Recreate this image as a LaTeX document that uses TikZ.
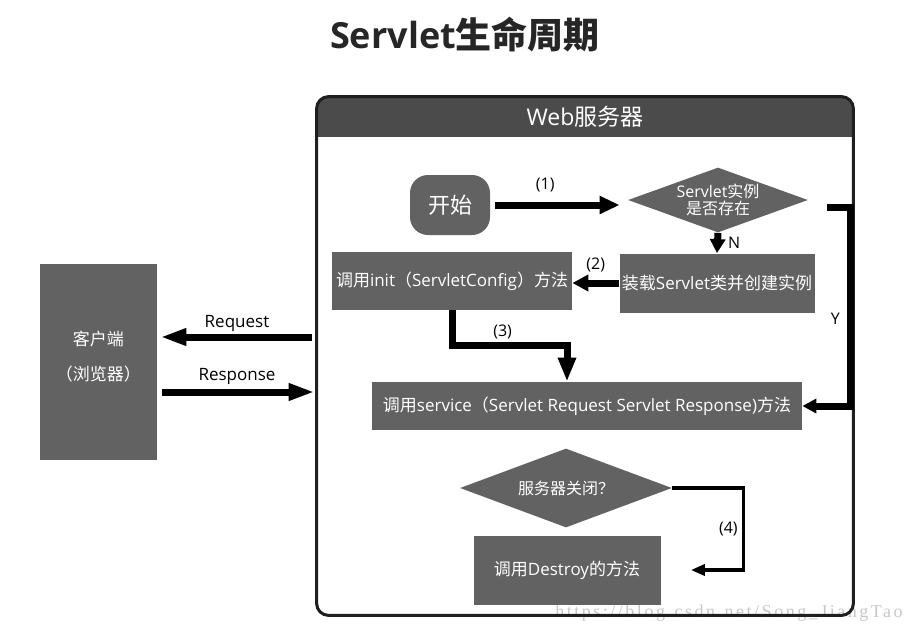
\documentclass[tikz,border=0pt]{standalone}
\usepackage{fontspec}
\setmainfont{Open Sans}
\newfontfamily\zh{Noto Sans CJK SC}
\newfontfamily\wm{Liberation Serif}[LetterSpace=14]
\usetikzlibrary{shapes.geometric,arrows.meta}
\definecolor{boxgray}{HTML}{626262}
\definecolor{hdrgray}{HTML}{4B4B4B}

\begin{document}
\begin{tikzpicture}[x=1pt, y=-1pt, thick,
	box/.style = {fill=boxgray, text=white, inner sep=0pt, font=\fontsize{17}{20}\selectfont},
	dec/.style = {diamond, fill=boxgray, text=white, inner sep=0pt, align=center, font=\fontsize{16}{17}\selectfont},
	flow/.style = {line width=7pt, draw=black, -{Triangle[length=20pt,width=17pt]}},
	lbl/.style = {inner sep=1pt, font=\fontsize{16}{16}\selectfont}]
		\useasboundingbox (0,0) rectangle (914,632);
		\node[font=\fontsize{36}{40}\selectfont\bfseries, text=black!85] (0) at (465,35) {Servlet{\zh 生命周期}};
		\node[text=black!22, font=\wm\fontsize{18}{18}\selectfont] (w) at (729,613) {https://blog.csdn.net/Song\_JiangTao};
		
		% Web server frame
		\node[minimum width=536pt, minimum height=518pt] (9) at (585,356) {};
		\begin{scope}
			\clip[rounded corners=12pt] (9.south west) rectangle (9.north east);
			\fill[hdrgray] (9.north west) rectangle ([yshift=-40pt]9.north east);
		\end{scope}
		\draw[line width=3pt, draw=black!88, rounded corners=12pt] (9.south west) rectangle (9.north east);
		\node[text=white, font=\fontsize{23}{24}\selectfont] (10) at ([yshift=-20pt]9.north) {Web{\zh 服务器}};
		
		\node[box, rounded corners=18pt, minimum width=80pt, minimum height=60pt, font=\fontsize{22}{24}\selectfont] (1) at (450,205) {\zh 开始};
		\node[dec, aspect=2.77, minimum width=180pt, minimum height=65pt] (2) at (718,200) {Servlet{\zh 实例}\\{\zh 是否存在}};
		\node[box, minimum width=195pt, minimum height=59pt] (3) at (717,283) {{\zh 装载}Servlet{\zh 类并创建实例}};
		\node[box, minimum width=240pt, minimum height=58pt] (4) at (452,281) {{\zh 调用}init{\zh （}ServletConfig{\zh ）方法}};
		\node[box, minimum width=430pt, minimum height=48pt] (5) at (587,406) {{\zh 调用}service{\zh （}Servlet Request Servlet Response){\zh 方法}};
		\node[dec, aspect=2.68, minimum width=212pt, minimum height=79pt] (6) at (566,488) {\zh 服务器关闭？};
		\node[box, minimum width=187pt, minimum height=69pt] (7) at (567,570) {{\zh 调用}Destroy{\zh 的方法}};
		\node[box, minimum width=117pt, minimum height=196pt, align=center, font=\fontsize{17}{35}\selectfont] (8) at (98.5,362) {{\zh 客户端}\\{\zh （浏览器）}\\[-22pt]};
		
		\draw[flow, shorten <=5pt, shorten >=8pt] (1.east) -- (1.east -| 2.west) node[lbl, pos=0.4, above=8pt] {(1)};
		\draw[flow, -{Triangle[length=14pt,width=15pt]}] (2.south) -- (3.north) node[lbl, midway, right=6pt] {N};
		\draw[flow, -{Triangle[length=16pt,width=16pt]}] (3.west) -- (3.west -| 4.east) node[lbl, midway, above=6pt] {(2)};
		\draw[flow, -{Triangle[length=24pt,width=17pt]}] (4.south) -- ++(0,35) -| node[lbl, pos=0.22, above=2pt] {(3)} ([xshift=-20pt]5.north);
		\draw[flow, -{Triangle[length=14pt,width=14pt]}] ([shift={(19pt,-7pt)}]2.east) -| node[lbl, pos=0.78, left=6pt] {Y} ([xshift=48pt]5.east) -- (5.east);
		\draw[line width=3.5pt, -{Triangle[length=14pt,width=11pt]}] (6.east) -- ++(71,0) |- node[lbl, pos=0.25, left=3pt] {(4)} ([xshift=30pt]7.east);
		
		\draw[flow, -{Triangle[length=26pt,width=16pt]}, shorten <=5pt, shorten >=3pt] ([yshift=19pt]9.west) -- ([yshift=25pt]8.east) node[lbl, font=\fontsize{17}{17}\selectfont, midway, above=1pt] {Request};
		\draw[flow, -{Triangle[length=26pt,width=16pt]}, shorten <=5pt, shorten >=2pt] ([yshift=-30pt]8.east) -- ([yshift=-36pt]9.west) node[lbl, font=\fontsize{17}{17}\selectfont, midway, above=3pt] {Response};
		\end{tikzpicture}
\end{document}
